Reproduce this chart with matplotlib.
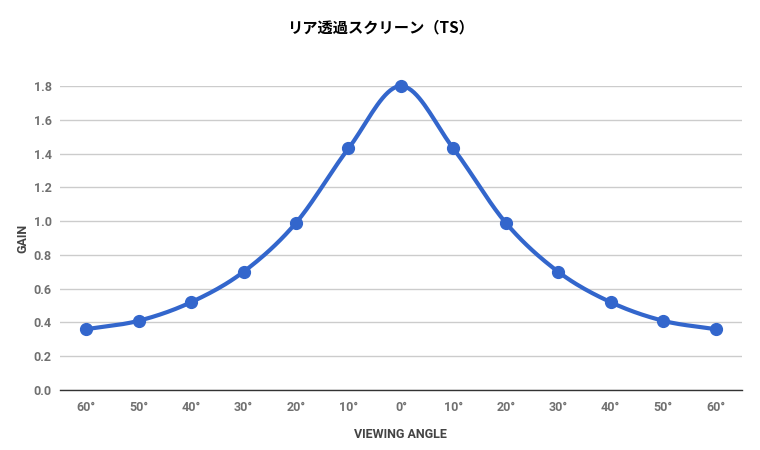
import numpy as np
import matplotlib
matplotlib.use('Agg')
import matplotlib.pyplot as plt

# Data
angles = ['60°', '50°', '40°', '30°', '20°', '10°', '0°', '10°', '20°', '30°', '40°', '50°', '60°']
gain = [0.36, 0.41, 0.52, 0.70, 0.99, 1.43, 1.80, 1.43, 0.99, 0.70, 0.52, 0.41, 0.36]
y_ticks = [0.0, 0.2, 0.4, 0.6, 0.8, 1.0, 1.2, 1.4, 1.6, 1.8]
title = 'リア透過スクリーン（TS）'

# Smooth curve through the points (cubic Hermite, like the chart's function curve)
def smooth(xs, ys, n=20):
  xs = np.asarray(xs, float)
  ys = np.asarray(ys, float)
  m = np.gradient(ys, xs)
  out_x, out_y = [], []
  for i in range(len(xs) - 1):
    t = np.linspace(0, 1, n, endpoint=False)
    h = xs[i + 1] - xs[i]
    h00 = 2*t**3 - 3*t**2 + 1
    h10 = t**3 - 2*t**2 + t
    h01 = -2*t**3 + 3*t**2
    h11 = t**3 - t**2
    out_x.append(xs[i] + t*h)
    out_y.append(h00*ys[i] + h10*h*m[i] + h01*ys[i+1] + h11*h*m[i+1])
  out_x.append([xs[-1]])
  out_y.append([ys[-1]])
  return np.concatenate(out_x), np.concatenate(out_y)

fig = plt.figure(figsize=(7.6, 4.5), dpi=100)
ax = fig.add_axes([0.079, 0.1333, 0.897, 0.6756])

x = np.arange(len(angles))
sx, sy = smooth(x, gain)
ax.plot(sx, sy, color='#3366cc', linewidth=3, solid_capstyle='round', zorder=3, clip_on=False)
ax.plot(x, gain, 'o', color='#3366cc', markersize=8.5, zorder=4, clip_on=False)

ax.set_xlim(-0.5, len(angles) - 0.5)
ax.set_ylim(0, 1.8)
ax.set_yticks(y_ticks)
ax.set_yticklabels([f'{v:.1f}' for v in y_ticks])
ax.set_xticks(x)
ax.set_xticklabels(angles)

for lbl in ax.get_xticklabels() + ax.get_yticklabels():
  lbl.set_fontfamily('Roboto')
  lbl.set_fontsize(9)
  lbl.set_fontweight('bold')
  lbl.set_color('#707070')

ax.grid(axis='y', color='#cccccc', linewidth=1)
ax.set_axisbelow(True)
for s in ['top', 'right', 'left']:
  ax.spines[s].set_visible(False)
ax.spines['bottom'].set_color('#333333')
ax.spines['bottom'].set_linewidth(1)
ax.spines['bottom'].set_zorder(5)
ax.tick_params(axis='x', length=0, pad=8)
ax.tick_params(axis='y', length=0, pad=6)

ax.set_xlabel('VIEWING ANGLE', fontfamily='Roboto', fontsize=9, fontweight='bold', color='#444444', labelpad=10)
ax.set_ylabel('GAIN', fontfamily='Roboto', fontsize=9, fontweight='bold', color='#444444', labelpad=3)

fig.text(0.5, 0.94, title, ha='center', va='center', fontsize=11, fontweight='bold',
         family=['Noto Sans CJK JP', 'DejaVu Sans'], color='#000000')

fig.savefig('out.png', dpi=100, facecolor='white')
